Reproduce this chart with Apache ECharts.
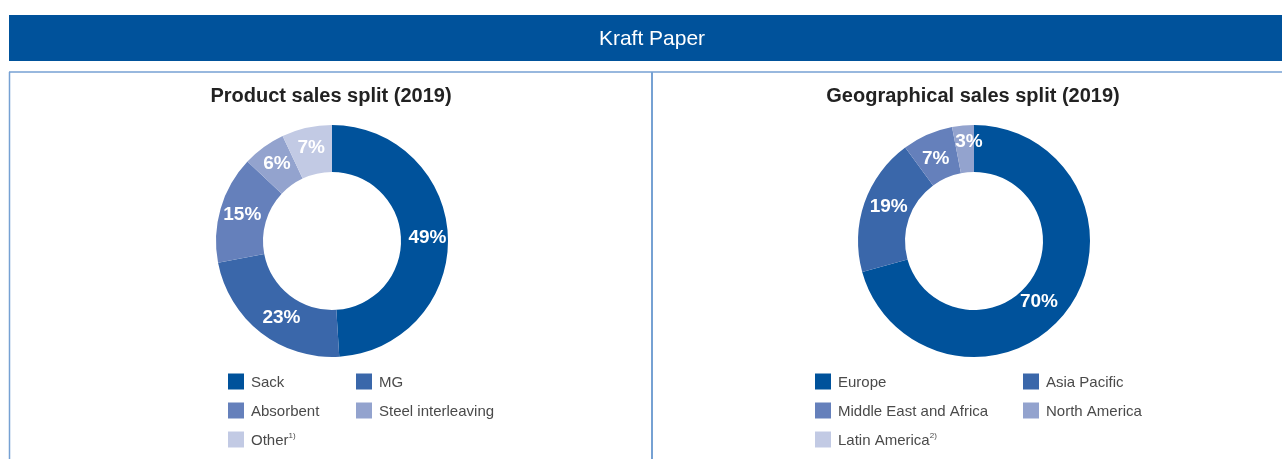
<!DOCTYPE html>
<html>
<head>
<meta charset="utf-8">
<script src="https://cdn.jsdelivr.net/npm/echarts@6/dist/echarts.min.js"></script>
<style>
  html,body{margin:0;padding:0;background:#fff}
  #chart{width:1282px;height:459px}
</style>
</head>
<body>
<div id="chart"></div>
<script>
// data
const headerTitle = "Kraft Paper"
const productTitle = "Product sales split (2019)"
const geoTitle = "Geographical sales split (2019)"
const productNames = ["Sack", "MG", "Absorbent", "Steel interleaving", "Other"]
const productValues = [49, 23, 15, 6, 7]
const geoNames = ["Europe", "Asia Pacific", "Middle East and Africa", "North America", "Latin America"]
const geoValues = [70, 19, 7, 3, 0]
const footnotes = { "Other": "1)", "Latin America": "2)" }

// label nudges, the original places some labels by hand
const productLabelShift = [[0, 0], [8, 1], [2, 0], [1, 0], [0, 0]]
const geoLabelShift = [[-11, 3], [5, -3], [0, 5], [4, -4], [0, 0]]

const shades = ["#00529b", "#3a67aa", "#6580bb", "#93a3ce", "#c2cae4"]
const font = "Liberation Sans, Arial, Helvetica, sans-serif"
const border = "#76a1d3"

const toItems = (names, values, shift) => names.map((n, i) => ({
  name: n, value: values[i], itemStyle: { color: shades[i] },
  label: { show: values[i] > 0, offset: shift[i] }
}))

const pie = (name, center, names, values, shift) => ({
  name, type: "pie", center, radius: [69, 116], startAngle: 90, clockwise: true,
  avoidLabelOverlap: false, silent: true,
  label: { position: "inside", formatter: "{c}%", color: "#fff", fontSize: 19, fontWeight: "bold", fontFamily: font },
  labelLine: { show: false },
  data: toItems(names, values, shift)
})

const legend = (data, left) => ({
  data, left, top: 373, orient: "vertical", padding: 0, itemGap: 12,
  itemWidth: 16, itemHeight: 16, icon: "rect", selectedMode: false,
  formatter: n => footnotes[n] ? `{t|${n}}{s|${footnotes[n]}}` : `{t|${n}}`,
  textStyle: {
    fontFamily: font,
    rich: {
      t: { fontSize: 15, color: "#4a4a4a", padding: [2, 0, 0, 2], lineHeight: 16, fontFamily: font },
      s: { fontSize: 8, color: "#4a4a4a", verticalAlign: "top", lineHeight: 9, fontFamily: font }
    }
  }
})

const chart = echarts.init(document.getElementById("chart"))
chart.setOption({
  animation: false,
  legend: [
    legend([productNames[0], productNames[2], productNames[4]], 228),
    legend([productNames[1], productNames[3]], 356),
    legend([geoNames[0], geoNames[2], geoNames[4]], 815),
    legend([geoNames[1], geoNames[3]], 1023)
  ],
  series: [
    pie("product", [332, 241], productNames, productValues, productLabelShift),
    pie("geo", [974, 241], geoNames, geoValues, geoLabelShift)
  ],
  graphic: [
    { type: "rect", shape: { x: 9, y: 15, width: 1273, height: 46 }, style: { fill: "#00529b" }, silent: true },
    { type: "text", x: 652, y: 39, style: { text: headerTitle, fill: "#fff", font: "21px " + font, align: "center", verticalAlign: "middle" }, silent: true },
    { type: "line", shape: { x1: 9, y1: 72, x2: 1282, y2: 72 }, style: { stroke: border, lineWidth: 1.5 }, silent: true },
    { type: "line", shape: { x1: 9.5, y1: 72, x2: 9.5, y2: 459 }, style: { stroke: border, lineWidth: 1.5 }, silent: true },
    { type: "line", shape: { x1: 652, y1: 72, x2: 652, y2: 459 }, style: { stroke: border, lineWidth: 2 }, silent: true },
    { type: "text", x: 331, y: 96, style: { text: productTitle, fill: "#222", font: "bold 20px " + font, align: "center", verticalAlign: "middle" }, silent: true },
    { type: "text", x: 973, y: 96, style: { text: geoTitle, fill: "#222", font: "bold 20px " + font, align: "center", verticalAlign: "middle" }, silent: true }
  ]
})
</script>
</body>
</html>
